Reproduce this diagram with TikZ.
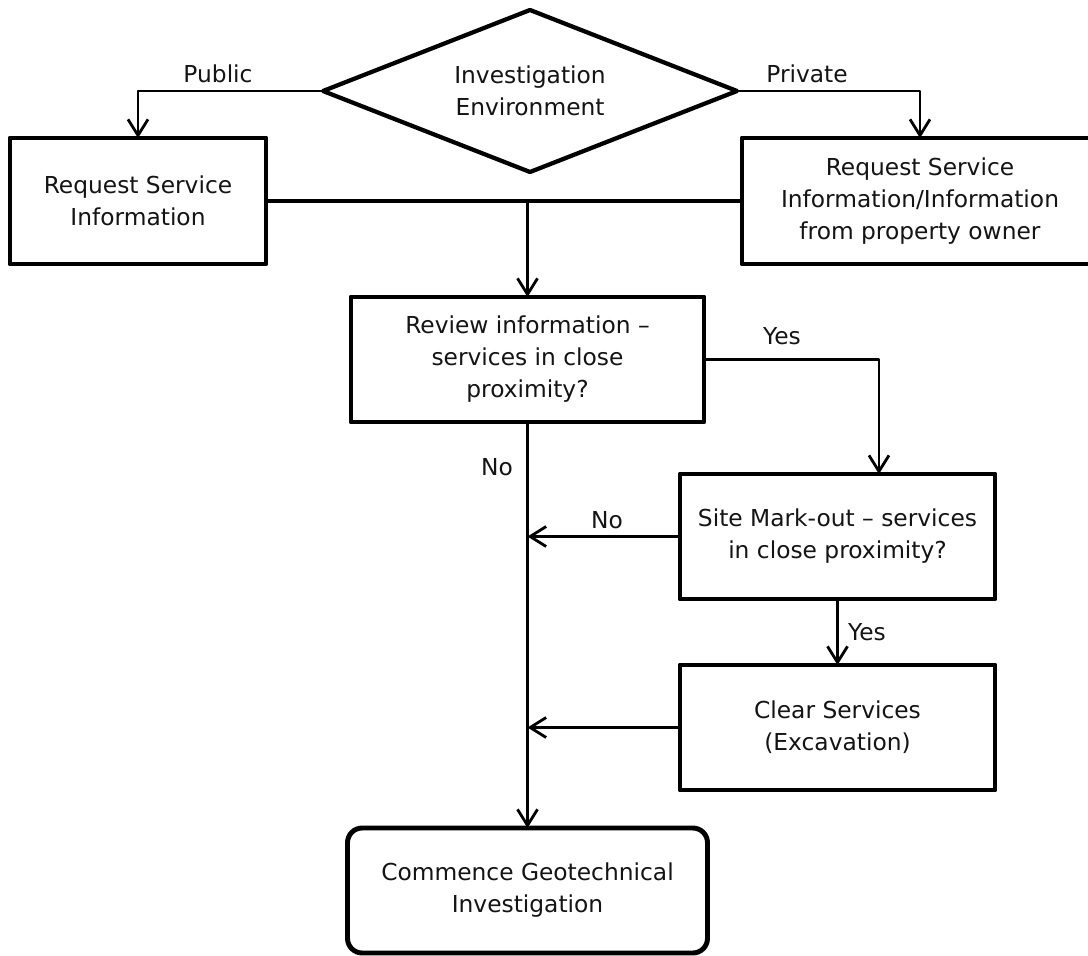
\documentclass[tikz,border=0pt]{standalone}
\usepackage{fontspec}
\setmainfont{DejaVu Sans}
\usetikzlibrary{shapes.geometric,arrows.meta}
\tikzset{
  base/.style={draw=black, fill=white, align=center, inner sep=0pt, outer sep=0pt,
    font=\fontsize{17.5}{24}\selectfont, text=black!92, line join=round},
  box/.style={base, rectangle, line width=3.7pt},
  rbox/.style={base, rectangle, rounded corners=11pt, line width=3.7pt},
  dec/.style={base, diamond, aspect=2.556, line width=3.2pt, minimum width=310.5pt, minimum height=121.5pt},
  conn/.style={draw=black, line width=2.1pt, line join=round, -{Straight Barb[length=12pt,width=15pt]}},
  merge/.style={draw=black, line width=2.8pt},
  lbl/.style={inner sep=0pt, font=\fontsize{17.5}{24}\selectfont, text=black!92}
}
\begin{document}
\begin{tikzpicture}[x=0.75pt, y=-0.75pt]
\useasboundingbox (0,0) rectangle (1088,956);
% nodes
\node[dec] (env) at (530,91) {Investigation\\Environment};
\node[box, minimum width=192pt, minimum height=94.5pt] (reqL) at (138,201) {Request Service\\Information};
\node[box, minimum width=267pt, minimum height=94.5pt] (reqR) at (920,201) {Request Service\\Information/Information\\from property owner};
\node[box, minimum width=264.75pt, minimum height=93.75pt] (review) at (527.5,359.5) {Review information –\\services in close\\proximity?};
\node[box, minimum width=236.25pt, minimum height=93.75pt] (site) at (837.5,536.5) {Site Mark-out – services\\in close proximity?};
\node[box, minimum width=236.25pt, minimum height=93.75pt] (clear) at (837.5,727.5) {Clear Services\\(Excavation)};
\node[rbox, minimum width=270pt, minimum height=93.75pt] (comm) at (527.5,890.5) {Commence Geotechnical\\Investigation};
% labels
\node[lbl] (lpub) at (218,74) {Public};
\node[lbl] (lpriv) at (807,74) {Private};
\node[lbl] (lyes1) at (782,336) {Yes};
\node[lbl] (lno1) at (497,467) {No};
\node[lbl] (lno2) at (607,520) {No};
\node[lbl] (lyes2) at (867,632) {Yes};
% connectors
\draw[conn] (env.west) -| (reqL.north);
\draw[conn] (env.east) -| (reqR.north);
\draw[merge] (reqL.east) -- (reqR.west);
\coordinate (mj) at (527.5,201);
\draw[conn] (mj) -- (review.north);
\draw[conn] (review.east) -| ([xshift=31.1pt]site.north);
\draw[conn] (review.south) -- (comm.north);
\draw[conn] (site.west) -- (site.west -| review.south);
\draw[conn] (site.south) -- (clear.north);
\draw[conn] (clear.west) -- (clear.west -| review.south);
\end{tikzpicture}
\end{document}
